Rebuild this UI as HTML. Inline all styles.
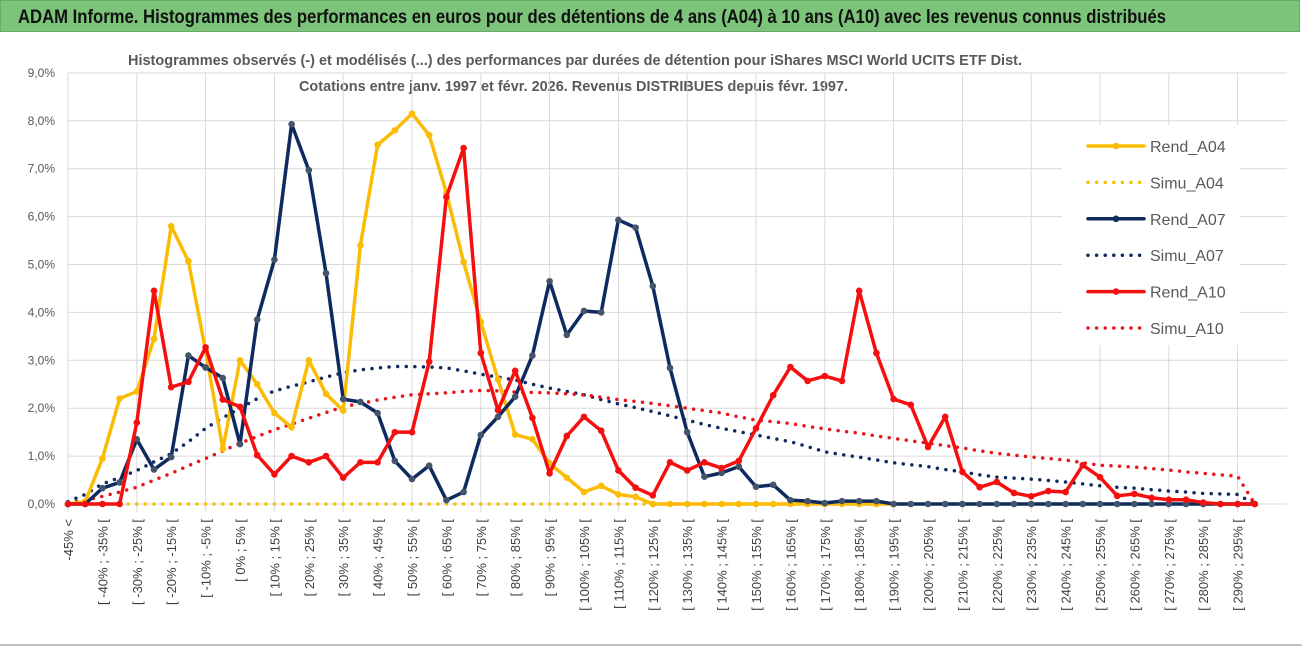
<!DOCTYPE html>
<html><head><meta charset="utf-8"><style>
body{margin:0;background:#fff;font-family:"Liberation Sans",sans-serif;}
#wrap{position:relative;width:1302px;height:647px;overflow:hidden;}
#titlebar{position:absolute;left:0;top:0;width:1300px;height:32px;background:#7cc47a;border:1px solid #6aa868;box-sizing:border-box;}
</style></head><body>
<div id="wrap">
<div id="titlebar"></div>
<svg id="chart" width="1302" height="647" style="position:absolute;left:0;top:0">
<text x="18" y="23" font-size="19" font-weight="bold" fill="#111" textLength="1148" lengthAdjust="spacingAndGlyphs">ADAM Informe. Histogrammes des performances en euros pour des détentions de 4 ans (A04) à 10 ans (A10) avec les revenus connus distribués</text>
<line x1="0" y1="645" x2="1302" y2="645" stroke="#bfbfbf" stroke-width="2"/>
</svg>
</div>
<script>
const cats=["-45% <"];for(let v=-45;v<300;v+=5)cats.push("[ "+v+"% ; "+(v+5)+"% ["); 
const yTicks=[0,1,2,3,4,5,6,7,8,9];
const rendA04=[0,0.05,0.95,2.2,2.35,3.45,5.8,5.07,3.2,1.15,3.0,2.5,1.9,1.6,3.0,2.3,1.95,5.4,7.5,7.8,8.15,7.7,6.5,5.05,3.8,2.6,1.45,1.35,0.85,0.55,0.25,0.38,0.2,0.15,0,0,0,0,0,0,0,0,0,0,0,0,0,0,0];
const simuA04=[null,null,null,0,0,0,0,0,0,0,0,0,0,0,0,0,0,0,0,0,0,0,0,0,0,0,0,0,0,0,0,0,0,0,0,0,0,0,0,0,0,0,0,0,0,0,0,0];
const rendA07=[0,0,0.33,0.45,1.35,0.72,0.98,3.1,2.85,2.63,1.25,3.85,5.1,7.93,6.97,4.82,2.19,2.13,1.9,0.9,0.52,0.8,0.08,0.25,1.44,1.82,2.24,3.1,4.65,3.53,4.03,4.0,5.93,5.77,4.55,2.84,1.5,0.57,0.65,0.78,0.36,0.4,0.08,0.06,0.02,0.06,0.06,0.06,0,0,0,0,0,0,0,0,0,0,0,0,0,0,0,0,0,0,0,0,0,0];
const simuA07=[0.05,0.2,0.42,0.55,0.7,0.88,1.05,1.3,1.58,1.8,2.0,2.2,2.36,2.46,2.55,2.65,2.74,2.8,2.84,2.87,2.87,2.86,2.84,2.78,2.71,2.65,2.59,2.5,2.42,2.35,2.28,2.18,2.09,2.01,1.93,1.84,1.75,1.66,1.58,1.51,1.44,1.37,1.3,1.2,1.09,1.03,0.98,0.92,0.86,0.82,0.78,0.72,0.67,0.61,0.56,0.54,0.52,0.49,0.46,0.42,0.38,0.35,0.33,0.3,0.27,0.25,0.22,0.21,0.2,0];
const rendA10=[0,0,0,0,1.7,4.45,2.44,2.55,3.27,2.18,2.03,1.02,0.62,1.0,0.87,1.0,0.55,0.87,0.87,1.5,1.5,2.97,6.41,7.43,3.15,1.96,2.78,1.8,0.64,1.42,1.82,1.53,0.7,0.34,0.18,0.87,0.7,0.87,0.75,0.9,1.58,2.27,2.86,2.57,2.67,2.57,4.45,3.15,2.19,2.07,1.19,1.82,0.67,0.35,0.46,0.23,0.16,0.27,0.25,0.81,0.56,0.17,0.21,0.13,0.09,0.09,0.03,0,0,0];
const simuA10=[0.02,0.08,0.16,0.25,0.35,0.5,0.64,0.8,0.95,1.11,1.27,1.41,1.55,1.67,1.79,1.91,2.03,2.1,2.17,2.23,2.28,2.3,2.32,2.35,2.37,2.36,2.34,2.33,2.32,2.3,2.28,2.23,2.18,2.14,2.1,2.05,2.0,1.95,1.9,1.82,1.75,1.72,1.68,1.62,1.57,1.52,1.48,1.42,1.37,1.32,1.27,1.22,1.17,1.11,1.06,1.02,0.98,0.95,0.92,0.86,0.81,0.79,0.77,0.74,0.71,0.67,0.64,0.61,0.58,0];
const NS="http://www.w3.org/2000/svg";
const svg=document.getElementById('chart');
const X0=68,DX=17.2,Y0=504,DY=47.9;
function xs(i){return X0+i*DX;}
function ys(v){return Y0-v*DY;}
function mk(t,a,p){const e=document.createElementNS(NS,t);for(const k in a)e.setAttribute(k,a[k]);(p||svg).appendChild(e);return e;}
let t1=mk('text',{x:128,y:65,'font-size':15,'font-weight':'bold',fill:'#595959',textLength:894,lengthAdjust:'spacingAndGlyphs'});t1.textContent="Histogrammes observés (-) et modélisés (...) des performances par durées de détention pour iShares MSCI World UCITS ETF Dist.";


let t2=mk('text',{x:299,y:91,'font-size':15,'font-weight':'bold',fill:'#595959',textLength:549,lengthAdjust:'spacingAndGlyphs'});t2.textContent="Cotations entre janv. 1997 et févr. 2026. Revenus DISTRIBUES depuis févr. 1997.";


yTicks.forEach(v=>{
 const l=mk('line',{x1:X0,x2:1287,y1:ys(v),y2:ys(v),stroke:'#d9d9d9','stroke-width':1});
 
 
 const tx=mk('text',{x:55,y:ys(v)+4,'text-anchor':'end','font-size':12,fill:'#595959'});tx.textContent=v.toFixed(1).replace('.',',')+'%';
 
 
});
for(let i=0;i<cats.length;i+=4){
 const l=mk('line',{x1:xs(i),x2:xs(i),y1:ys(9),y2:Y0+8,stroke:'#d9d9d9','stroke-width':1});
 
 
}
cats.forEach((c,i)=>{
 if(i%2)return;
 const tx=mk('text',{transform:`translate(${xs(i)+5},519) rotate(-90)`,'text-anchor':'end','font-size':13,fill:'#404040'});tx.textContent=c;
 
 
});
function series(data,color,dotted,name,mcol){
 const pts=[];data.forEach((v,i)=>{if(v!==null&&v!==undefined)pts.push([xs(i),ys(v)]);});
 const p=mk('polyline',{points:pts.map(q=>q.join(',')).join(' '),fill:'none',stroke:color,'stroke-width':3.5,'stroke-linejoin':'round','stroke-linecap':'round'});
 if(dotted){p.setAttribute('stroke-dasharray','0 8.6');}
 
 
 if(!dotted)pts.forEach(q=>{
  const c=mk('circle',{cx:q[0],cy:q[1],r:3.3,fill:mcol||color});
  
  
 });
}
series(simuA04,'#f5c000',true,'simu-a04');
series(simuA07,'#0e2a5e',true,'simu-a07');
series(simuA10,'#e8141a',true,'simu-a10');
series(rendA04,'#fbbc05',false,'rend-a04');
series(rendA07,'#0e2a5e',false,'rend-a07','#44546a');
series(rendA10,'#f50f0f',false,'rend-a10');
const lg=mk('g',{});


mk('rect',{x:1062,y:125,width:178,height:220,fill:'#fff'},lg);
const leg=[['Rend_A04','#fbbc05',false],['Simu_A04','#f5c000',true],['Rend_A07','#0e2a5e',false],['Simu_A07','#0e2a5e',true],['Rend_A10','#f50f0f',false],['Simu_A10','#e8141a',true]];
leg.forEach((e,k)=>{
 const y=146+k*36.4;
 const g=mk('g',{},lg);
 
 
 const l=mk('line',{x1:1088,x2:1144,y1:y,y2:y,stroke:e[1],'stroke-width':3.5,'stroke-linecap':'round'},g);
 if(e[2])l.setAttribute('stroke-dasharray','0 8.6');
 else mk('circle',{cx:1116,cy:y,r:3.3,fill:e[1]},g);
 const tx=mk('text',{x:1150,y:y+6,'font-size':16,fill:'#595959'},g);tx.textContent=e[0];
});
</script>
</body></html>
